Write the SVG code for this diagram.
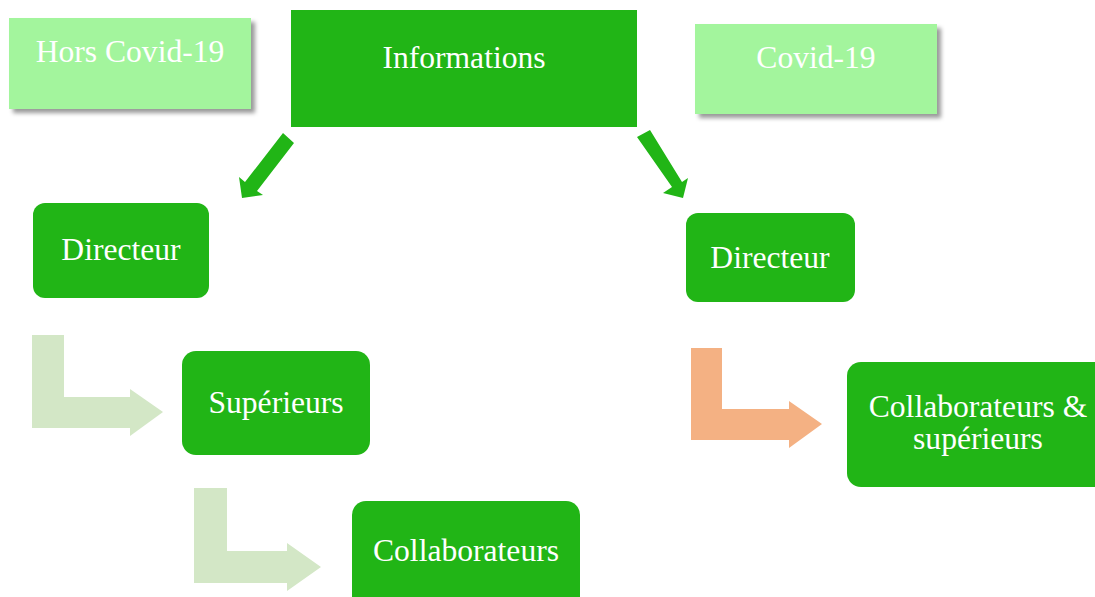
<svg xmlns="http://www.w3.org/2000/svg" width="1095" height="597" viewBox="0 0 1095 597">
<defs>
<style>
.dk{fill:#21B516}
.lt{fill:#A3F59D}
.t{font-family:"Liberation Serif","Times New Roman",serif;font-size:31.6px;fill:#fff;text-anchor:middle}
.ga{fill:#D3E7C6}
.oa{fill:#F4B183}
.ar{fill:#21B516}
</style>
<filter id="sh" x="-10%" y="-10%" width="125%" height="130%">
<feDropShadow dx="4" dy="4" stdDeviation="2" flood-color="#000" flood-opacity="0.4"/>
</filter>
</defs>
<rect width="1095" height="597" fill="#fff"/>
<g id="hors-covid">
<rect class="lt" x="9" y="18" width="242" height="91" filter="url(#sh)"/>
<text class="t" x="130" y="62">Hors Covid-19</text>
</g>
<g id="informations">
<rect class="dk" x="291" y="10" width="346" height="117"/>
<text class="t" x="464" y="68">Informations</text>
</g>
<g id="covid">
<rect class="lt" x="695" y="24" width="242" height="90" filter="url(#sh)"/>
<text class="t" x="816" y="68">Covid-19</text>
</g>
<g id="directeur-left">
<rect class="dk" x="33" y="203" width="176" height="95" rx="12"/>
<text class="t" x="121" y="260">Directeur</text>
</g>
<g id="superieurs">
<rect class="dk" x="182" y="351" width="188" height="104" rx="14"/>
<text class="t" x="276" y="413">Supérieurs</text>
</g>
<g id="collaborateurs">
<rect class="dk" x="352" y="501" width="228" height="110" rx="14"/>
<text class="t" x="466" y="561">Collaborateurs</text>
</g>
<g id="directeur-right">
<rect class="dk" x="686" y="213" width="169" height="89" rx="12"/>
<text class="t" x="770" y="268">Directeur</text>
</g>
<g id="collab-sup">
<rect class="dk" x="847" y="362" width="262" height="125" rx="14"/>
<text class="t" x="978" y="417">Collaborateurs &amp;</text>
<text class="t" x="978" y="449">supérieurs</text>
</g>
<g id="connectors">
<polygon class="ar" points="283,133 294,143 257,191 263,195 242,198 239,177 245,182"/>
<polygon class="ar" points="650,130 682,182 688,178 683,198 663,193 672,187 637,137"/>
<polygon class="ga" points="32,335 64,335 64,397 130,397 130,389 163,412 130,436 130,428 32,428"/>
<polygon class="ga" points="194,488 227,488 227,551 287,551 287,543 321,567 287,591 287,583 194,583"/>
<polygon class="oa" points="691,348 722,348 722,409 789,409 789,401 822,424 789,448 789,440 691,440"/>
</g>
</svg>
